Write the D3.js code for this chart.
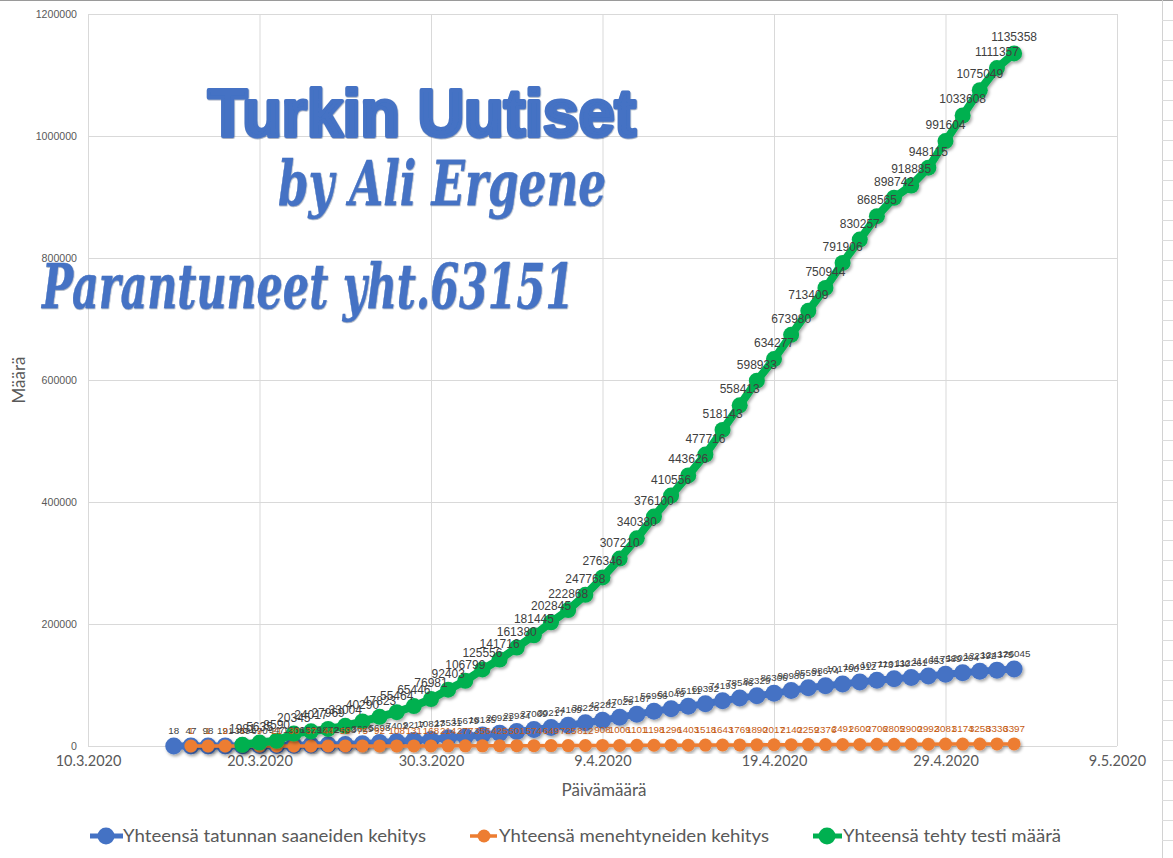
<!DOCTYPE html>
<html><head><meta charset="utf-8">
<script src="https://cdn.jsdelivr.net/npm/d3@7"></script>
<style>
html,body{margin:0;padding:0;background:#fff;overflow:hidden}
svg{display:block}
text{font-family:Lato,"Liberation Sans",sans-serif}
</style></head><body>
<svg id="c" width="1173" height="858"></svg>
<script>
const casesStart = "2020-03-15";
const deathsStart = "2020-03-16";
const testsStart = "2020-03-19";
const cases = [18,47,98,191,359,670,947,1236,1529,1872,2433,3629,5698,7402,9217,10827,13531,15679,18135,20921,23934,27069,30217,34109,38226,42282,47029,52167,56956,61049,65111,69392,74193,78546,82329,86306,90980,95591,98674,101790,104912,107773,110130,112261,114653,117589,120204,122392,124375,126045];
const deaths = [1,1,2,4,9,21,30,37,44,59,75,92,108,131,168,214,277,356,425,501,574,649,725,812,908,1006,1101,1198,1296,1403,1518,1643,1769,1890,2017,2140,2259,2376,2491,2600,2706,2805,2900,2992,3081,3174,3258,3336,3397];
const tests = [1981,5635,8590,20345,24017,27969,33004,40290,47823,55464,65446,76981,92403,106799,125556,141716,161380,181445,202845,222868,247768,276346,307210,340380,376100,410556,443626,477716,518143,558413,598933,634277,673980,713409,750944,791906,830257,868565,898742,918885,948115,991604,1033608,1075049,1111357,1135358];
const seriesNames = ["Yhteensä tatunnan saaneiden kehitys","Yhteensä menehtyneiden kehitys","Yhteensä tehty testi määrä"];
const xTickLabels = ["10.3.2020","20.3.2020","30.3.2020","9.4.2020","19.4.2020","29.4.2020","9.5.2020"];
const yTicks = [0,200000,400000,600000,800000,1000000,1200000];
const overlayTitle = "Turkin Uutiset", overlayBy = "by Ali Ergene", overlayHealed = "Parantuneet yht.63151";

const parseTick = d3.timeParse("%-d.%-m.%Y"), parseIso = d3.timeParse("%Y-%m-%d");
const svg = d3.select("#c");
const defs = svg.append("defs");
const f = defs.append("filter").attr("id","sh").attr("x","-5%").attr("y","-5%").attr("width","110%").attr("height","110%");
f.append("feDropShadow").attr("dx",1.5).attr("dy",2).attr("stdDeviation",1.6).attr("flood-color","#000").attr("flood-opacity",0.34);
const fw = defs.append("filter").attr("id","wa").attr("x","-5%").attr("y","-10%").attr("width","110%").attr("height","120%");
fw.append("feDropShadow").attr("dx",.5).attr("dy",.8).attr("stdDeviation",0.4).attr("flood-color","#1c3560").attr("flood-opacity",0.5);

const x = d3.scaleTime().domain([parseTick(xTickLabels[0]),parseTick(xTickLabels[6])]).range([88,1117]);
const y = d3.scaleLinear().domain([0,1200000]).range([746,14]);

// spreadsheet remains behind the chart
const sheet = svg.append("g").attr("stroke","#dcdcdc").attr("stroke-width",1);
sheet.append("line").attr("x1",0).attr("x2",1173).attr("y1",0.5).attr("y2",0.5).attr("stroke","#9a9a9a");
sheet.append("line").attr("x1",1162.5).attr("x2",1162.5).attr("y1",0).attr("y2",858).attr("stroke","#d2d2d2");
sheet.selectAll("line.r").data(d3.range(20,858,20)).join("line").attr("class","r")
  .attr("x1",1162).attr("x2",1173).attr("y1",d=>d+.5).attr("y2",d=>d+.5);

// grid
const gy = svg.append("g").attr("transform","translate(88,0)")
  .call(d3.axisLeft(y).tickValues(yTicks).tickSize(-1029).tickSizeOuter(0).tickFormat(d3.format("d")));
const gx = svg.append("g").attr("transform","translate(0,746)")
  .call(d3.axisBottom(x).tickValues(xTickLabels.map(parseTick)).tickSize(-732).tickSizeOuter(0).tickFormat(d3.timeFormat("%-d.%-m.%Y")));
[gy,gx].forEach(g=>{g.select(".domain").remove();g.selectAll(".tick line").attr("stroke","#d9d9d9");});
gy.selectAll("text").attr("x",-11).attr("font-size",11.5).attr("fill","#595959").style("font-family","'Liberation Sans'");
gy.selectAll(".tick").each(function(d){d3.select(this).select("text").attr("textLength",String(d).length*5.9).attr("lengthAdjust","spacingAndGlyphs");});
gx.selectAll("text").attr("y",20).attr("dy","0").attr("font-size",14.5).attr("fill","#595959");

// series
const series = [
 {name:seriesNames[0],vals:cases,start:casesStart,color:"#4472C4",r:8.5,lw:7,lab:"#404040",fs:9.8},
 {name:seriesNames[1],vals:deaths,start:deathsStart,color:"#ED7D31",r:6.5,lw:3.5,lab:"#C55A11",fs:9.8},
 {name:seriesNames[2],vals:tests,start:testsStart,color:"#00B050",r:8,lw:8,lab:"#404040",fs:12}
];
series.forEach(s=>{
  const d0=parseIso(s.start);
  s.pts=s.vals.map((v,i)=>({d:d3.timeDay.offset(d0,i),v}));
});
const line=d3.line().x(d=>x(d.d)).y(d=>y(d.v));
series.forEach(s=>{
  const g=svg.append("g").attr("filter","url(#sh)");
  g.append("path").attr("d",line(s.pts)).attr("fill","none").attr("stroke",s.color).attr("stroke-width",s.lw);
  g.selectAll("circle").data(s.pts).join("circle").attr("cx",d=>x(d.d)).attr("cy",d=>y(d.v)).attr("r",s.r).attr("fill",s.color);
});
series.forEach(s=>{
  svg.append("g").selectAll("text").data(s.pts).join("text")
    .attr("x",d=>x(d.d)).attr("y",d=>y(d.v)-12)
    .attr("text-anchor","middle").attr("font-size",s.fs).attr("fill",s.lab)
    .style("font-family","'Liberation Sans'").text(d=>d.v);
});

// axis titles
svg.append("text").attr("x",604).attr("y",796).attr("text-anchor","middle").attr("font-size",17).attr("fill","#595959").text("Päivämäärä");
svg.append("text").attr("transform","translate(25,380) rotate(-90)").attr("text-anchor","middle").attr("font-size",17).attr("fill","#595959").text("Määrä");

// legend
const legend=[{cx:106,x0:90,x1:123,tx:123,tl:303,r:8.5,lw:5},{cx:484,x0:470,x1:497,tx:499,tl:270,r:6.5,lw:3.5},{cx:827,x0:813,x1:842,tx:843,tl:218,r:8.5,lw:5}];
legend.forEach((l,i)=>{
  const g=svg.append("g");
  g.append("line").attr("x1",l.x0).attr("x2",l.x1).attr("y1",836).attr("y2",836).attr("stroke",series[i].color).attr("stroke-width",l.lw);
  g.append("circle").attr("cx",l.cx).attr("cy",836).attr("r",l.r).attr("fill",series[i].color);
  g.append("text").attr("x",l.tx).attr("y",842).attr("font-size",18).attr("fill","#595959")
    .attr("textLength",l.tl).attr("lengthAdjust","spacingAndGlyphs").text(seriesNames[i]);
});

// WordArt overlays
const wa=svg.append("g").attr("fill","#4472C4").attr("stroke","#4472C4").attr("filter","url(#wa)");
wa.append("text").attr("x",208).attr("y",136).attr("font-size",66).attr("font-weight",900)
  .attr("stroke-width",4).attr("stroke-linejoin","round").style("font-family","'Liberation Sans'").attr("textLength",428).attr("lengthAdjust","spacingAndGlyphs").text(overlayTitle);
wa.append("text").attr("x",278).attr("y",205).attr("font-size",62).attr("font-style","italic").attr("font-weight",700)
  .attr("stroke-width",.4).style("font-family","'DejaVu Serif'").attr("textLength",328).attr("lengthAdjust","spacingAndGlyphs").text(overlayBy);
wa.append("text").attr("x",42).attr("y",308).attr("font-size",62).attr("font-style","italic").attr("font-weight",700)
  .attr("stroke-width",.4).style("font-family","'DejaVu Serif'").attr("textLength",532).attr("lengthAdjust","spacingAndGlyphs").text(overlayHealed);
</script>
</body></html>
